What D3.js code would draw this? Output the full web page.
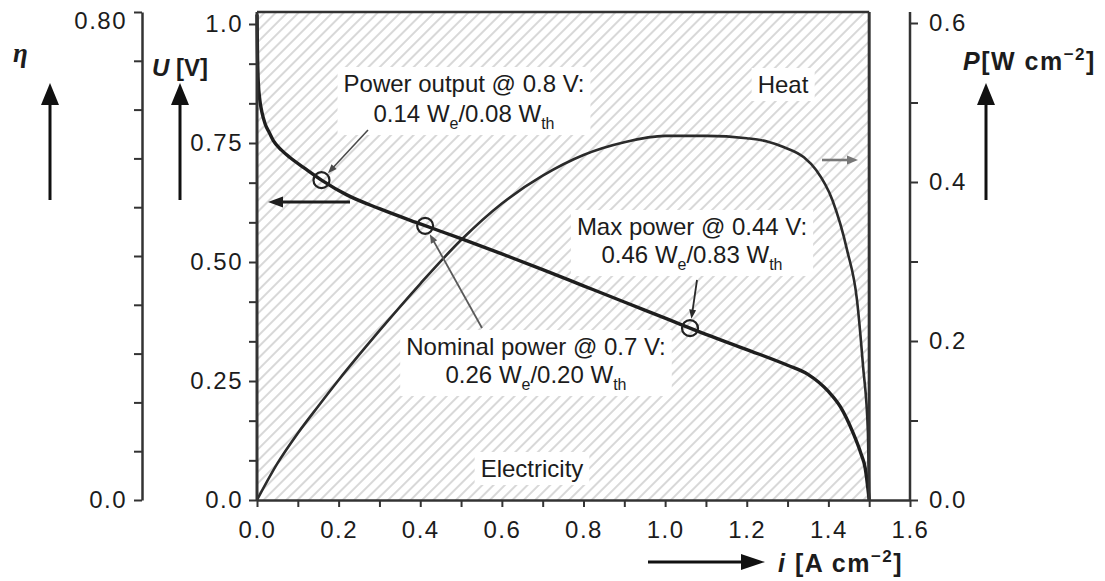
<!DOCTYPE html>
<html><head><meta charset="utf-8">
<script src="https://cdn.jsdelivr.net/npm/d3@7"></script>
<style>
html,body{margin:0;padding:0;background:#fff;}
svg{display:block;font-family:"Liberation Sans",Arial,Helvetica,sans-serif;}
</style></head><body>
<svg id="chart" width="1105" height="581"></svg>
<script>
// Polarization curve: cell voltage U [V] against current density i [A cm^-2]
const uCurrent = [0, 0.001, 0.003, 0.007, 0.012, 0.02, 0.03, 0.04, 0.06, 0.08, 0.12, 0.16, 0.22, 0.3, 0.4, 0.5, 0.6, 0.7, 0.8, 0.9, 1.0, 1.1, 1.2, 1.3, 1.35, 1.4, 1.43, 1.46, 1.48, 1.49, 1.5];
const uVoltage = [1.02, 0.95, 0.88, 0.84, 0.815, 0.79, 0.772, 0.755, 0.735, 0.72, 0.695, 0.671, 0.641, 0.612, 0.58, 0.549, 0.517, 0.484, 0.45, 0.416, 0.382, 0.348, 0.316, 0.283, 0.264, 0.228, 0.195, 0.142, 0.097, 0.068, 0.0];

// Power density curve: P [W cm^-2] against current density
const pCurrent = [0, 0.05, 0.1, 0.15, 0.2, 0.3, 0.4, 0.5, 0.6, 0.7, 0.8, 0.9, 1.0, 1.1, 1.2, 1.25, 1.29, 1.34, 1.37, 1.41, 1.446, 1.47, 1.485, 1.497, 1.5];
const pPower = [0, 0.046, 0.084, 0.118, 0.151, 0.213, 0.272, 0.327, 0.373, 0.408, 0.434, 0.45, 0.458, 0.458, 0.455, 0.451, 0.444, 0.431, 0.415, 0.377, 0.314, 0.252, 0.168, 0.084, 0];

// Marked operating points on the polarization curve
const pointCurrent = [0.158, 0.412, 1.061];
const pointVoltage = [0.672, 0.576, 0.361];

// Ticks and tick labels
const xTicks = d3.range(0, 17).map(k => k / 10);
const xLabelValues = [0, 0.2, 0.4, 0.6, 0.8, 1.0, 1.2, 1.4, 1.6];
const xLabels = ["0.0", "0.2", "0.4", "0.6", "0.8", "1.0", "1.2", "1.4", "1.6"];
const uTicks = d3.range(0, 13).map(k => k / 12);
const uLabelValues = [0, 0.25, 0.5, 0.75, 1.0];
const uLabels = ["0.0", "0.25", "0.50", "0.75", "1.0"];
const etaTicks = d3.range(0, 11).map(k => k * 0.08);
const etaLabelValues = [0, 0.8];
const etaLabels = ["0.0", "0.80"];
const pTicks = d3.range(0, 7).map(k => k / 10);
const pLabelValues = [0, 0.2, 0.4, 0.6];
const pLabels = ["0.0", "0.2", "0.4", "0.6"];

const svg = d3.select("#chart");
const ink = "#1c1c1c";
const axisInk = "#333";

const x = d3.scaleLinear().domain([0, 1.6]).range([257, 910]);
const yU = d3.scaleLinear().domain([0, 1]).range([500, 24]);
const yEta = d3.scaleLinear().domain([0, 0.8]).range([500, 12]);
const yP = d3.scaleLinear().domain([0, 0.6]).range([500, 23]);

// diagonal hatching for the plot box
const defs = svg.append("defs");
const pat = defs.append("pattern").attr("id", "hatch")
  .attr("patternUnits", "userSpaceOnUse").attr("width", 8).attr("height", 8)
  .attr("patternTransform", "rotate(45)");
pat.append("rect").attr("width", 8).attr("height", 8).attr("fill", "#fff");
pat.append("line").attr("x1", 4).attr("y1", 0).attr("x2", 4).attr("y2", 8)
  .attr("stroke", "#c4c4c4").attr("stroke-width", 1.3);

const boxL = x(0), boxR = x(d3.max(uCurrent)), boxT = yEta(0.8), boxB = yU(0);
svg.append("rect").attr("x", boxL).attr("y", boxT)
  .attr("width", boxR - boxL).attr("height", boxB - boxT).attr("fill", "url(#hatch)");

// multi-line text with subscripts on a white patch
const bgLayer = svg.append("g");
const curveLayer = svg.append("g");
const textLayer = svg.append("g");

function label(lines, cx, y0, lh, pad) {
  const boxes = [];
  lines.forEach((parts, k) => {
    const t = textLayer.append("text").attr("x", cx).attr("y", y0 + k * lh)
      .attr("text-anchor", "middle").attr("font-size", 24).attr("fill", ink);
    let shift = 0;
    parts.forEach(p => {
      const isSub = p[1] === "sub";
      const target = isSub ? 7 : 0;
      t.append("tspan").attr("dy", target - shift)
        .attr("font-size", isSub ? 16 : 24).text(p[0]);
      shift = target;
    });
    boxes.push(t.node().getBBox());
  });
  const x0 = d3.min(boxes, b => b.x) - pad, x1 = d3.max(boxes, b => b.x + b.width) + pad;
  const y1 = d3.min(boxes, b => b.y) - pad / 2, y2 = d3.max(boxes, b => b.y + b.height) + pad / 2;
  bgLayer.append("rect").attr("x", x0).attr("y", y1).attr("width", x1 - x0).attr("height", y2 - y1).attr("fill", "#fff");
}

function arrow(x1, y1, x2, y2, len, wid, sw, color) {
  const dx = x2 - x1, dy = y2 - y1, L = Math.hypot(dx, dy), ux = dx / L, uy = dy / L;
  const bx = x2 - ux * len, by = y2 - uy * len;
  svg.append("line").attr("x1", x1).attr("y1", y1).attr("x2", bx + ux).attr("y2", by + uy)
    .attr("stroke", color).attr("stroke-width", sw);
  svg.append("path")
    .attr("d", `M${x2},${y2}L${bx - uy * wid / 2},${by + ux * wid / 2}L${bx + uy * wid / 2},${by - ux * wid / 2}Z`)
    .attr("fill", color);
}

label([[["Power output @ 0.8 V:"]], [["0.14 W"], ["e", "sub"], ["/0.08 W"], ["th", "sub"]]], 464, 92, 30, 6);
label([[["Heat"]]], 783, 93, 30, 6);
label([[["Max power @ 0.44 V:"]], [["0.46 W"], ["e", "sub"], ["/0.83 W"], ["th", "sub"]]], 692, 235, 28, 6);
label([[["Nominal power @ 0.7 V:"]], [["0.26 W"], ["e", "sub"], ["/0.20 W"], ["th", "sub"]]], 536, 355, 28, 6);
label([[["Electricity"]]], 532, 477, 30, 6);

// curves
const uLine = d3.line().x((d, k) => x(uCurrent[k])).y(d => yU(d)).curve(d3.curveMonotoneX);
const pLine = d3.line().x((d, k) => x(pCurrent[k])).y(d => yP(d)).curve(d3.curveMonotoneX);
curveLayer.append("path").attr("d", pLine(pPower)).attr("fill", "none")
  .attr("stroke", "#2b2b2b").attr("stroke-width", 2.6);
curveLayer.append("path").attr("d", uLine(uVoltage)).attr("fill", "none")
  .attr("stroke", "#1e1e1e").attr("stroke-width", 3.4).attr("stroke-linejoin", "round");

// operating point markers
const r = 8;
curveLayer.selectAll("circle.op").data(pointCurrent).join("circle").attr("class", "op")
  .attr("cx", d => x(d)).attr("cy", (d, k) => yU(pointVoltage[k])).attr("r", r)
  .attr("fill", "none").attr("stroke", "#222").attr("stroke-width", 2.2);

// leader arrows from the notes to their points
function leader(x1, y1, k, color, sw) {
  const cx = x(pointCurrent[k]), cy = yU(pointVoltage[k]);
  const dx = cx - x1, dy = cy - y1, L = Math.hypot(dx, dy);
  arrow(x1, y1, cx - dx / L * (r + 1.5), cy - dy / L * (r + 1.5), 9, 7, sw, color);
}
leader(368, 130, 0, "#4a4a4a", 1.6);
leader(482, 328, 1, "#5a5a5a", 1.8);
leader(697, 280, 2, "#2a2a2a", 1.8);

// curve-to-axis arrows
arrow(350, 202, 268, 202, 15, 11, 3, "#1e1e1e");
arrow(822, 160, 858, 160, 11, 9, 2.6, "#777");

// axes
const fmt = (vals, texts) => d => {
  const k = vals.findIndex(v => Math.abs(v - d) < 1e-6);
  return k < 0 ? "" : texts[k];
};
function styleAxis(g) {
  g.attr("font-size", 24).attr("font-family", null);
  g.selectAll("text").attr("fill", ink).style("letter-spacing", "1.5px");
  g.selectAll(".tick line").attr("stroke", axisInk).attr("stroke-width", 2);
  g.select(".domain").attr("stroke", axisInk).attr("stroke-width", 2.5);
}

const gx = svg.append("g").attr("transform", `translate(0,${boxB})`)
  .call(d3.axisBottom(x).tickValues(xTicks).tickFormat(fmt(xLabelValues, xLabels))
    .tickSize(7).tickSizeOuter(0).tickPadding(14));
styleAxis(gx);

const gu = svg.append("g").attr("transform", `translate(${boxL},0)`)
  .call(d3.axisLeft(yU).tickValues(uTicks).tickFormat(fmt(uLabelValues, uLabels))
    .tickSize(8).tickSizeOuter(0).tickPadding(6));
styleAxis(gu);
gu.select(".domain").remove();

const etaX = 142;
const ge = svg.append("g").attr("transform", `translate(${etaX},0)`)
  .call(d3.axisLeft(yEta).tickValues(etaTicks).tickFormat(fmt(etaLabelValues, etaLabels))
    .tickSize(8).tickSizeOuter(0).tickPadding(7));
styleAxis(ge);
ge.selectAll(".tick text").filter(d => Math.abs(d - 0.8) < 1e-6).attr("dy", "0.7em");

const gp = svg.append("g").attr("transform", `translate(${x(1.6)},0)`)
  .call(d3.axisRight(yP).tickValues(pTicks).tickFormat(fmt(pLabelValues, pLabels))
    .tickSize(8).tickSizeOuter(0).tickPadding(11));
styleAxis(gp);
gp.select(".domain").remove();
svg.append("line").attr("x1", x(1.6)).attr("x2", x(1.6)).attr("y1", boxT).attr("y2", boxB)
  .attr("stroke", axisInk).attr("stroke-width", 2.5);

// plot box frame
svg.append("line").attr("x1", boxL).attr("x2", boxR).attr("y1", boxT).attr("y2", boxT)
  .attr("stroke", axisInk).attr("stroke-width", 2.5);
svg.append("line").attr("x1", boxR).attr("x2", boxR).attr("y1", boxT).attr("y2", boxB)
  .attr("stroke", axisInk).attr("stroke-width", 3);
svg.append("line").attr("x1", boxL).attr("x2", boxL).attr("y1", boxT).attr("y2", boxB + 1)
  .attr("stroke", axisInk).attr("stroke-width", 3);

// axis titles with direction arrows
svg.append("text").attr("x", 13).attr("y", 62).attr("font-size", 27)
  .attr("font-family", "'Liberation Serif', serif").attr("font-weight", "bold")
  .attr("font-style", "italic").attr("fill", ink).text("η");

const tU = svg.append("text").attr("x", 152).attr("y", 76).attr("font-size", 24).attr("fill", ink).attr("font-weight", "bold");
tU.append("tspan").attr("font-style", "italic").text("U");
tU.append("tspan").text(" [V]");

const tP = svg.append("text").attr("x", 963).attr("y", 70).attr("font-size", 25).attr("fill", ink)
  .attr("font-weight", "bold").style("letter-spacing", "1.5px");
tP.append("tspan").attr("font-style", "italic").text("P");
tP.append("tspan").text("[W cm");
tP.append("tspan").attr("font-size", 17).attr("dy", -10).text("−2");
tP.append("tspan").attr("dy", 10).text("]");

const tI = svg.append("text").attr("x", 778).attr("y", 572).attr("font-size", 25).attr("fill", ink)
  .attr("font-weight", "bold").style("letter-spacing", "1.5px");
tI.append("tspan").attr("font-style", "italic").text("i");
tI.append("tspan").text(" [A cm");
tI.append("tspan").attr("font-size", 17).attr("dy", -10).text("−2");
tI.append("tspan").attr("dy", 10).text("]");

arrow(50, 200, 50, 83, 22, 18, 3, "#111");
arrow(180, 200, 180, 83, 22, 18, 3, "#111");
arrow(986, 200, 986, 83, 22, 18, 3, "#111");
arrow(648, 562, 765, 562, 24, 16, 3, "#111");
</script>
</body></html>
